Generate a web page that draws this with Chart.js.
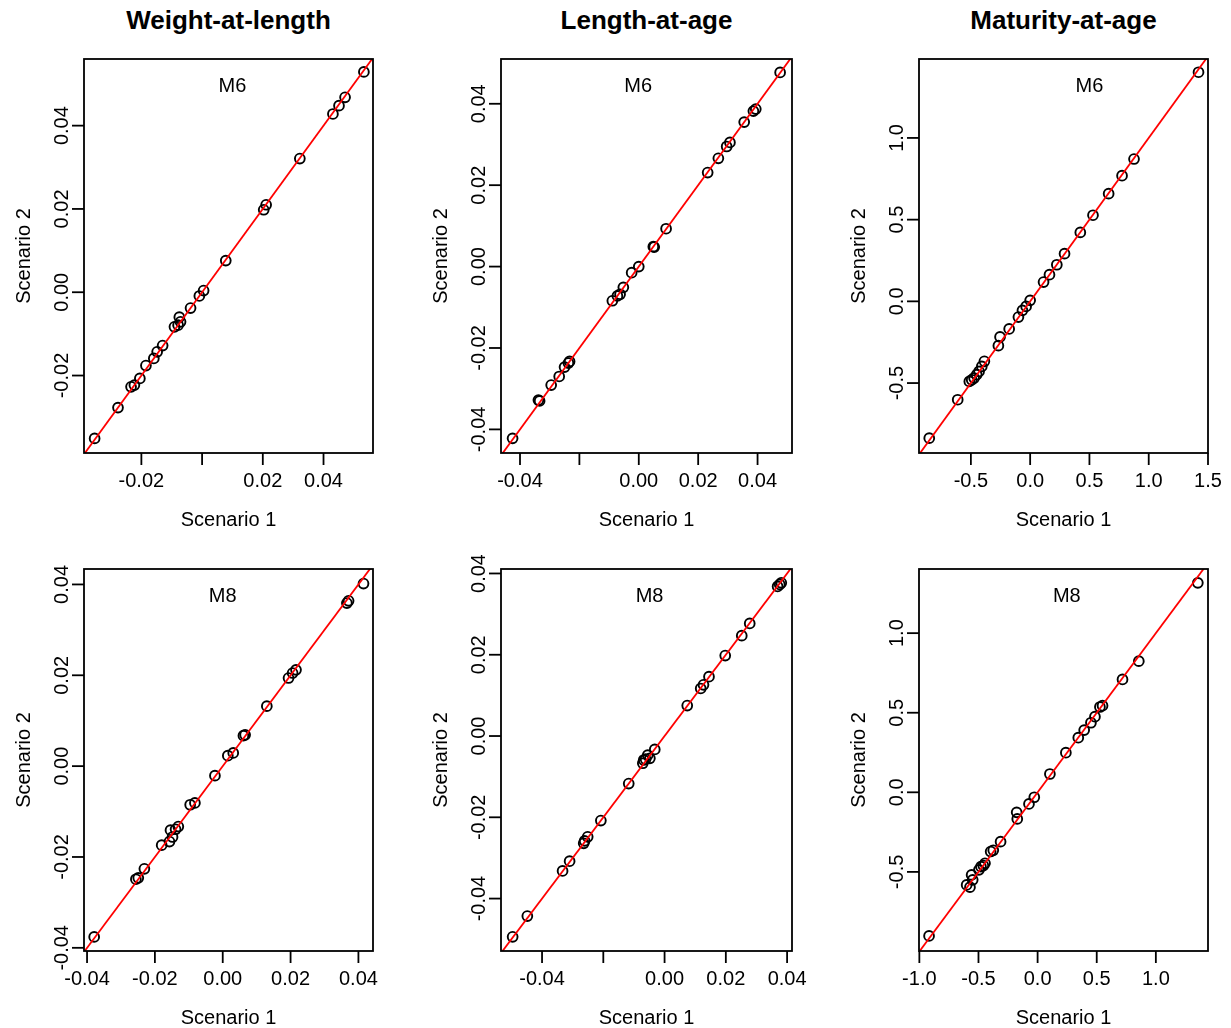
<!DOCTYPE html>
<html>
<head>
<meta charset="utf-8">
<script src="https://cdn.jsdelivr.net/npm/chart.js@4.4.1/dist/chart.umd.min.js"></script>
<style>
  html, body { margin: 0; padding: 0; background: #fff; overflow: hidden; }
  body { width: 1231px; height: 1028px; position: relative; font-family: "Liberation Sans", Arial, sans-serif; }
  canvas { position: absolute; }
  .coltitle { position: absolute; top: 5px; font-weight: bold; font-size: 26px; text-align: center; color: #000; }
</style>
</head>
<body>
<script>
// ---- data (Scenario 1 vs Scenario 2) ----
const colTitles = ['Weight-at-length', 'Length-at-age', 'Maturity-at-age'];

// Weight-at-length, M6
const wlM6S1 = [-0.0354,-0.0277,-0.0234,-0.0223,-0.0205,-0.0185,-0.0159,-0.0148,-0.0130,-0.0091,-0.0079,-0.0071,-0.0075,-0.0038,-0.0009,0.0005,0.0078,0.0203,0.0211,0.0322,0.0431,0.0451,0.0471,0.0533];
const wlM6S2 = [-0.0351,-0.0277,-0.0227,-0.0223,-0.0207,-0.0176,-0.0159,-0.0143,-0.0128,-0.0083,-0.0079,-0.0071,-0.0060,-0.0038,-0.0009,0.0004,0.0076,0.0198,0.0210,0.0321,0.0428,0.0448,0.0468,0.0529];
// Length-at-age, M6
const laM6S1 = [-0.0425,-0.0338,-0.0334,-0.0295,-0.0268,-0.0250,-0.0237,-0.0233,-0.0089,-0.0072,-0.0063,-0.0052,-0.0024,0.0000,0.0049,0.0052,0.0092,0.0232,0.0268,0.0296,0.0307,0.0355,0.0386,0.0394,0.0476];
const laM6S2 = [-0.0422,-0.0328,-0.0330,-0.0291,-0.0270,-0.0247,-0.0237,-0.0233,-0.0084,-0.0072,-0.0068,-0.0051,-0.0015,0.0000,0.0049,0.0048,0.0093,0.0231,0.0266,0.0295,0.0305,0.0355,0.0382,0.0387,0.0477];
// Maturity-at-age, M6
const maM6S1 = [-0.851,-0.611,-0.513,-0.493,-0.473,-0.451,-0.431,-0.408,-0.386,-0.268,-0.254,-0.177,-0.099,-0.065,-0.034,0.000,0.113,0.163,0.225,0.290,0.423,0.530,0.662,0.775,0.876,1.420];
const maM6S2 = [-0.837,-0.602,-0.490,-0.480,-0.469,-0.449,-0.429,-0.398,-0.367,-0.271,-0.218,-0.169,-0.096,-0.055,-0.031,0.006,0.118,0.163,0.224,0.292,0.422,0.527,0.659,0.769,0.871,1.402];
// Weight-at-length, M8
const wlM8S1 = [-0.0379,-0.0256,-0.0249,-0.0231,-0.0180,-0.0157,-0.0154,-0.0148,-0.0139,-0.0131,-0.0096,-0.0082,-0.0023,0.0015,0.0031,0.0061,0.0066,0.0130,0.0194,0.0206,0.0216,0.0366,0.0371,0.0415];
const wlM8S2 = [-0.0376,-0.0249,-0.0246,-0.0226,-0.0174,-0.0166,-0.0141,-0.0156,-0.0139,-0.0133,-0.0085,-0.0081,-0.0021,0.0023,0.0029,0.0067,0.0069,0.0132,0.0194,0.0205,0.0212,0.0359,0.0364,0.0402];
// Length-at-age, M8
const laM8S1 = [-0.0496,-0.0448,-0.0333,-0.0310,-0.0264,-0.0261,-0.0251,-0.0208,-0.0117,-0.0071,-0.0068,-0.0062,-0.0055,-0.0048,-0.0032,0.0074,0.0118,0.0127,0.0145,0.0198,0.0252,0.0278,0.0369,0.0376,0.0381];
const laM8S2 = [-0.0494,-0.0443,-0.0332,-0.0308,-0.0264,-0.0258,-0.0248,-0.0208,-0.0117,-0.0067,-0.0059,-0.0057,-0.0047,-0.0055,-0.0033,0.0075,0.0117,0.0126,0.0146,0.0198,0.0247,0.0277,0.0368,0.0373,0.0377];
// Maturity-at-age, M8
const maM8S1 = [-0.918,-0.600,-0.572,-0.549,-0.558,-0.496,-0.479,-0.459,-0.445,-0.397,-0.375,-0.313,-0.177,-0.172,-0.073,-0.028,0.104,0.239,0.344,0.394,0.451,0.485,0.527,0.549,0.718,0.856,1.355];
const maM8S2 = [-0.902,-0.582,-0.596,-0.550,-0.519,-0.487,-0.467,-0.460,-0.446,-0.372,-0.364,-0.310,-0.126,-0.167,-0.073,-0.031,0.115,0.249,0.343,0.391,0.437,0.475,0.536,0.544,0.709,0.824,1.316];

// axis limits
const wlM6XRange = [-0.0389, 0.0563], wlM6YRange = [-0.0386, 0.0560];
const laM6XRange = [-0.0464, 0.0516], laM6YRange = [-0.0458, 0.0510];
const maM6XRange = [-0.9375, 1.500],  maM6YRange = [-0.928, 1.483];
const wlM8XRange = [-0.0409, 0.0443], wlM8YRange = [-0.0407, 0.0434];
const laM8XRange = [-0.0534, 0.0416], laM8YRange = [-0.0529, 0.0411];
const maM8XRange = [-1.003, 1.441],   maM8YRange = [-0.997, 1.403];

// tick values and labels ('' = tick without label, as in the original)
const smallTicks4 = [-0.02, 0, 0.02, 0.04];
const smallTicks5 = [-0.04, -0.02, 0, 0.02, 0.04];
const wlM6XLabels = ['-0.02', '', '0.02', '0.04'];
const wlM6YLabels = ['-0.02', '0.00', '0.02', '0.04'];
const laM6XLabels = ['-0.04', '', '0.00', '0.02', '0.04'];
const allLabels5  = ['-0.04', '-0.02', '0.00', '0.02', '0.04'];
const maM6XTicks = [-0.5, 0, 0.5, 1.0, 1.5];
const maM6XLabels = ['-0.5', '0.0', '0.5', '1.0', '1.5'];
const maYTicks = [-0.5, 0, 0.5, 1.0];
const maYLabels = ['-0.5', '0.0', '0.5', '1.0'];
const maM8XTicks = [-1.0, -0.5, 0, 0.5, 1.0];
const maM8XLabels = ['-1.0', '-0.5', '0.0', '0.5', '1.0'];

// panel label x position (data units)
const tagX = [0.010, -0.0002, 0.50, 0.0, -0.0049, 0.247];

// ---- layout of the plot boxes (page pixels) ----
const colLeft = [84, 501, 919];
const colRight = [373, 792, 1208];
const rowTop = [59, 569];
const rowBottom = [453, 951];
const PAD = { left: 82, top: 14, right: 20, bottom: 77 };
const FONT = '"Liberation Sans", Arial, sans-serif';

const panels = [
  { col: 0, row: 0, tag: 'M6', s1: wlM6S1, s2: wlM6S2, xr: wlM6XRange, yr: wlM6YRange, xt: smallTicks4, xl: wlM6XLabels, yt: smallTicks4, yl: wlM6YLabels },
  { col: 1, row: 0, tag: 'M6', s1: laM6S1, s2: laM6S2, xr: laM6XRange, yr: laM6YRange, xt: smallTicks5, xl: laM6XLabels, yt: smallTicks5, yl: allLabels5 },
  { col: 2, row: 0, tag: 'M6', s1: maM6S1, s2: maM6S2, xr: maM6XRange, yr: maM6YRange, xt: maM6XTicks, xl: maM6XLabels, yt: maYTicks, yl: maYLabels },
  { col: 0, row: 1, tag: 'M8', s1: wlM8S1, s2: wlM8S2, xr: wlM8XRange, yr: wlM8YRange, xt: smallTicks5, xl: allLabels5, yt: smallTicks5, yl: allLabels5 },
  { col: 1, row: 1, tag: 'M8', s1: laM8S1, s2: laM8S2, xr: laM8XRange, yr: laM8YRange, xt: smallTicks5, xl: laM6XLabels, yt: smallTicks5, yl: allLabels5 },
  { col: 2, row: 1, tag: 'M8', s1: maM8S1, s2: maM8S2, xr: maM8XRange, yr: maM8YRange, xt: maM8XTicks, xl: maM8XLabels, yt: maYTicks, yl: maYLabels }
];

// R-style frame: box, outward ticks, rotated y labels, axis titles, panel tag
const rFrame = {
  id: 'rFrame',
  afterDraw(chart, args, opts) {
    const { ctx, chartArea: a, scales } = chart;
    const p = opts.panel;
    const xs = scales.x, ys = scales.y;
    const tick = 12;
    ctx.save();
    ctx.strokeStyle = '#000';
    ctx.fillStyle = '#000';
    ctx.lineWidth = 1.8;
    ctx.strokeRect(a.left, a.top, a.right - a.left, a.bottom - a.top);

    ctx.font = '20px ' + FONT;
    // x axis
    ctx.textAlign = 'center';
    ctx.textBaseline = 'alphabetic';
    p.xt.forEach((v, i) => {
      const px = xs.getPixelForValue(v);
      if (px < a.left - 1 || px > a.right + 1) return;
      ctx.beginPath();
      ctx.moveTo(px, a.bottom);
      ctx.lineTo(px, a.bottom + tick);
      ctx.stroke();
      if (p.xl[i]) ctx.fillText(p.xl[i], px, a.bottom + 34);
    });
    // y axis
    p.yt.forEach((v, i) => {
      const py = ys.getPixelForValue(v);
      if (py < a.top - 1 || py > a.bottom + 1) return;
      ctx.beginPath();
      ctx.moveTo(a.left, py);
      ctx.lineTo(a.left - tick, py);
      ctx.stroke();
      if (p.yl[i]) {
        ctx.save();
        ctx.translate(a.left - 16, py);
        ctx.rotate(-Math.PI / 2);
        ctx.fillText(p.yl[i], 0, 0);
        ctx.restore();
      }
    });
    // axis titles
    const cx = (a.left + a.right) / 2, cy = (a.top + a.bottom) / 2;
    ctx.fillText('Scenario 1', cx, a.bottom + 73);
    ctx.save();
    ctx.translate(a.left - 54, cy);
    ctx.rotate(-Math.PI / 2);
    ctx.fillText('Scenario 2', 0, 0);
    ctx.restore();
    // panel tag
    ctx.fillText(p.tag, xs.getPixelForValue(p.tagX), a.top + 33);
    ctx.restore();
  }
};

panels.forEach((p, idx) => {
  p.tagX = tagX[idx];
  const boxW = colRight[p.col] - colLeft[p.col];
  const boxH = rowBottom[p.row] - rowTop[p.row];
  const canvas = document.createElement('canvas');
  canvas.width = boxW + PAD.left + PAD.right;
  canvas.height = boxH + PAD.top + PAD.bottom;
  canvas.style.left = (colLeft[p.col] - PAD.left) + 'px';
  canvas.style.top = (rowTop[p.row] - PAD.top) + 'px';
  document.body.appendChild(canvas);

  // 1:1 reference line spanning both axes
  const lo = Math.min(p.xr[0], p.yr[0]);
  const hi = Math.max(p.xr[1], p.yr[1]);

  new Chart(canvas, {
    type: 'scatter',
    data: {
      datasets: [
        {
          type: 'line',
          data: [{ x: lo, y: lo }, { x: hi, y: hi }],
          borderColor: '#ff0000',
          borderWidth: 1.8,
          pointRadius: 0,
          fill: false,
          order: 0
        },
        {
          data: p.s1.map((v, i) => ({ x: v, y: p.s2[i] })),
          pointStyle: 'circle',
          pointRadius: 4.9,
          borderColor: '#000',
          borderWidth: 1.9,
          backgroundColor: 'rgba(0,0,0,0)',
          order: 1
        }
      ]
    },
    options: {
      responsive: false,
      animation: false,
      events: [],
      layout: { padding: PAD },
      plugins: {
        legend: { display: false },
        tooltip: { enabled: false },
        rFrame: { panel: p }
      },
      scales: {
        x: { type: 'linear', min: p.xr[0], max: p.xr[1], display: false },
        y: { type: 'linear', min: p.yr[0], max: p.yr[1], display: false }
      }
    },
    plugins: [rFrame]
  });
});

// column titles
colTitles.forEach((t, c) => {
  const d = document.createElement('div');
  d.className = 'coltitle';
  d.textContent = t;
  d.style.left = colLeft[c] + 'px';
  d.style.width = (colRight[c] - colLeft[c]) + 'px';
  document.body.appendChild(d);
});
</script>
</body>
</html>
